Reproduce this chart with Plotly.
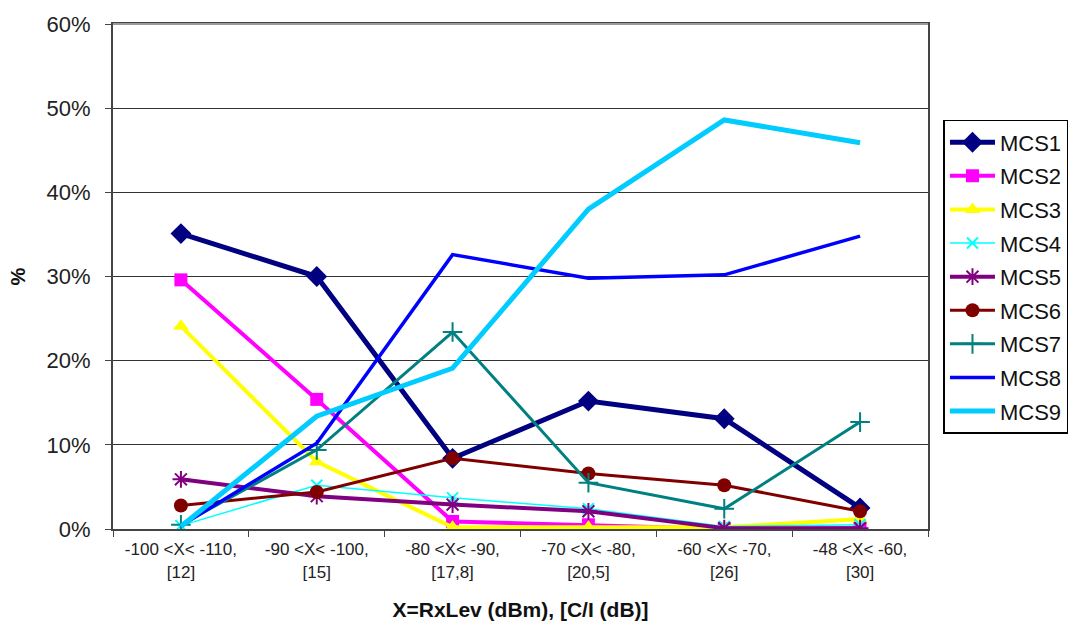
import plotly.graph_objects as go

categories = ["-100 <X< -110,<br>[12]", "-90 <X< -100,<br>[15]", "-80 <X< -90,<br>[17,8]",
              "-70 <X< -80,<br>[20,5]", "-60 <X< -70,<br>[26]", "-48 <X< -60,<br>[30]"]

mcs1 = [35.1, 30.0, 8.4, 15.2, 13.1, 2.5]
mcs2 = [29.6, 15.4, 0.9, 0.5, 0.0, 0.1]
mcs3 = [24.1, 8.0, 0.2, 0.2, 0.2, 1.2]
mcs4 = [0.4, 5.2, 3.7, 2.4, 0.3, 0.5]
mcs5 = [5.9, 3.9, 2.9, 2.1, 0.1, 0.1]
mcs6 = [2.8, 4.4, 8.4, 6.6, 5.2, 2.1]
mcs7 = [0.5, 9.4, 23.4, 5.5, 2.4, 12.7]
mcs8 = [0.4, 10.2, 32.6, 29.8, 30.2, 34.8]
mcs9 = [0.3, 13.4, 19.1, 38.0, 48.6, 45.9]

series = [
    ("MCS1", mcs1, "#000080", 5, "diamond", 16),
    ("MCS2", mcs2, "#FF00FF", 4, "square", 13),
    ("MCS3", mcs3, "#FFFF00", 4, "triangle-up", 14),
    ("MCS4", mcs4, "#00FFFF", 1.5, "x-thin", 11),
    ("MCS5", mcs5, "#800080", 4, "asterisk", 14),
    ("MCS6", mcs6, "#800000", 3, "circle", 14),
    ("MCS7", mcs7, "#008080", 3, "cross-thin", 14),
    ("MCS8", mcs8, "#0000FF", 3.5, None, 0),
    ("MCS9", mcs9, "#00CCFF", 5, None, 0),
]

fig = go.Figure()
for i, (name, vals, color, lw, sym, ms) in enumerate(series):
    y = [v / 100 for v in vals]
    if sym:
        marker = dict(symbol=sym, size=ms, color=color,
                      line=dict(color=color, width=2 if "thin" in sym or sym == "asterisk" else 0))
        mode = "lines+markers"
    else:
        marker = None
        mode = "lines"
    fig.add_trace(go.Scatter(x=categories, y=y, name=name, mode=mode,
                             line=dict(color=color, width=lw),
                             marker=marker, legendgroup=name))

fig.update_layout(
    width=1081, height=630,
    margin=dict(l=113, r=153, t=17, b=100),
    paper_bgcolor="white", plot_bgcolor="white",
    font=dict(family="Liberation Sans, Arial", color="#222"),
    legend=dict(x=1.019, y=0.81, xanchor="left", yanchor="top",
                bordercolor="#000", borderwidth=1.5, bgcolor="white",
                font=dict(size=22, color="#111"), tracegroupgap=2,
                traceorder="grouped", itemwidth=45),
    xaxis=dict(type="category", range=[-0.5, 5.5], showgrid=False,
               showline=True, linecolor="#444", linewidth=2, mirror=True,
               ticks="outside", tickson="boundaries", ticklen=6, tickcolor="#444",
               tickfont=dict(size=17, color="#222"), ticklabelstandoff=4,
               title=dict(text="<b>X=RxLev (dBm), [C/I (dB)]</b>", font=dict(size=21, color="#111"), standoff=22)),
    yaxis=dict(range=[0, 0.6], dtick=0.1, tickformat=".0%", showgrid=True,
               gridcolor="#333", gridwidth=1,
               showline=True, linecolor="#444", linewidth=2, mirror=True,
               ticks="outside", ticklen=6, tickcolor="#444",
               tickfont=dict(size=22, color="#222"), zeroline=False, ticklabelstandoff=10,
               title=dict(text="<b>%</b>", font=dict(size=20, color="#111"), standoff=16)),
    shapes=[dict(type="line", xref="paper", yref="paper", x0=0, x1=1, y0=1, y1=1,
                 line=dict(color="#999", width=2))],
)

fig.write_html("out.html")
